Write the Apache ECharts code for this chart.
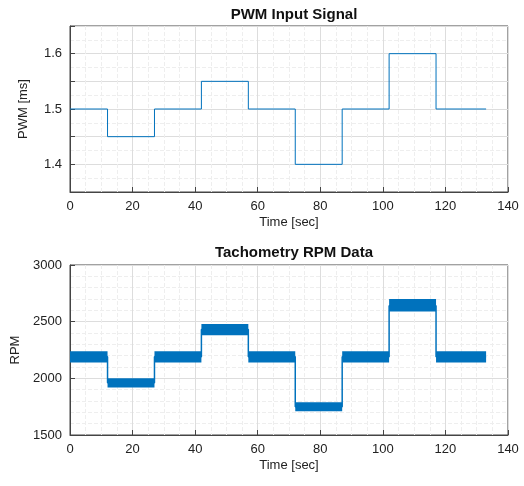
<!DOCTYPE html>
<html><head><meta charset="utf-8">
<script src="https://cdn.jsdelivr.net/npm/echarts@6/dist/echarts.min.js"></script>
<style>html,body{margin:0;background:#fff}#c{width:524px;height:486px}</style>
</head><body><div id="c"></div>
<script>
// segment boundaries (sec)
let starts = [0, 12, 27, 42, 57, 72, 87, 102, 117];
let ends = [12, 27, 42, 57, 72, 87, 102, 117, 133];
let pwm = [1.5, 1.45, 1.5, 1.55, 1.5, 1.4, 1.5, 1.6, 1.5];
// rpm noise band per segment
let rpmLo = [2140, 1920, 2140, 2380, 2140, 1710, 2140, 2590, 2140];
let rpmMid = [2190, 1960, 2190, 2430, 2190, 1750, 2190, 2640, 2190];
let rpmHi = [2240, 2000, 2240, 2480, 2240, 1790, 2240, 2700, 2240];
let pwmLabels = ['1.4', '1.5', '1.6'];

let blue = '#0072BD';
let pwmLine = starts.map((s, i) => [s, pwm[i]]);
pwmLine.push([133, 1.5]);
let rpmLine = starts.map((s, i) => [s, rpmMid[i]]);
rpmLine.push([133, 2190]);
let bands = starts.map((s, i) => [s, ends[i], rpmLo[i], rpmHi[i]]);

function xAx(idx) {
  return {
    gridIndex: idx, type: 'value', min: 0, max: 140, interval: 20,
    name: 'Time [sec]', nameLocation: 'middle', nameGap: 24,
    nameTextStyle: {fontSize: 13, color: '#222'},
    axisLine: {lineStyle: {color: '#444'}}, axisTick: {inside: true, lineStyle: {color: '#444'}},
    axisLabel: {color: '#222', fontSize: 13},
    splitLine: {lineStyle: {color: '#ddd'}},
    minorTick: {show: true, splitNumber: 4, length: 0},
    minorSplitLine: {show: true, lineStyle: {color: '#eee', type: 'dashed'}}
  };
}
function yAx(idx, name, min, max, interval, minorN, fmt) {
  return {
    gridIndex: idx, type: 'value', min: min, max: max, interval: interval,
    name: name, nameLocation: 'middle', nameGap: 40,
    nameTextStyle: {fontSize: 13, color: '#222'},
    axisLine: {show: true, lineStyle: {color: '#444'}}, axisTick: {inside: true, lineStyle: {color: '#444'}},
    axisLabel: {color: '#222', fontSize: 13, formatter: fmt},
    splitLine: {lineStyle: {color: '#ddd'}},
    minorTick: {show: true, splitNumber: minorN, length: 0},
    minorSplitLine: {show: true, lineStyle: {color: '#eee', type: 'dashed'}}
  };
}

let chart = echarts.init(document.getElementById('c'));
chart.setOption({
  animation: false,
  title: [
    {text: 'PWM Input Signal', left: 289, top: 2, textAlign: 'center', textStyle: {fontSize: 15, fontWeight: 'bold', color: '#111'}},
    {text: 'Tachometry RPM Data', left: 289, top: 240, textAlign: 'center', textStyle: {fontSize: 15, fontWeight: 'bold', color: '#111'}}
  ],
  grid: [
    {left: 70, right: 16, top: 26, height: 166, show: true, borderColor: '#444'},
    {left: 70, right: 16, top: 265, height: 170, show: true, borderColor: '#444'}
  ],
  xAxis: [xAx(0), xAx(1)],
  yAxis: [
    yAx(0, 'PWM [ms]', 1.35, 1.65, 0.05, 2, v => {
      let s = (Math.round(v * 100) / 100).toString();
      return pwmLabels.indexOf(s) >= 0 ? s : '';
    }),
    yAx(1, 'RPM', 1500, 3000, 500, 5, v => String(v))
  ],
  series: [
    {type: 'line', xAxisIndex: 0, yAxisIndex: 0, step: 'end', data: pwmLine, symbol: 'none',
     lineStyle: {color: blue, width: 1}},
    {type: 'line', xAxisIndex: 1, yAxisIndex: 1, step: 'end', data: rpmLine, symbol: 'none',
     lineStyle: {color: blue, width: 1.5}},
    {type: 'custom', xAxisIndex: 1, yAxisIndex: 1, data: bands,
     renderItem: function (params, api) {
       let p0 = api.coord([api.value(0), api.value(3)]);
       let p1 = api.coord([api.value(1), api.value(2)]);
       return {type: 'rect', shape: {x: p0[0], y: p0[1], width: p1[0] - p0[0], height: p1[1] - p0[1]},
               style: {fill: blue}};
     }}
  ]
});
</script></body></html>
